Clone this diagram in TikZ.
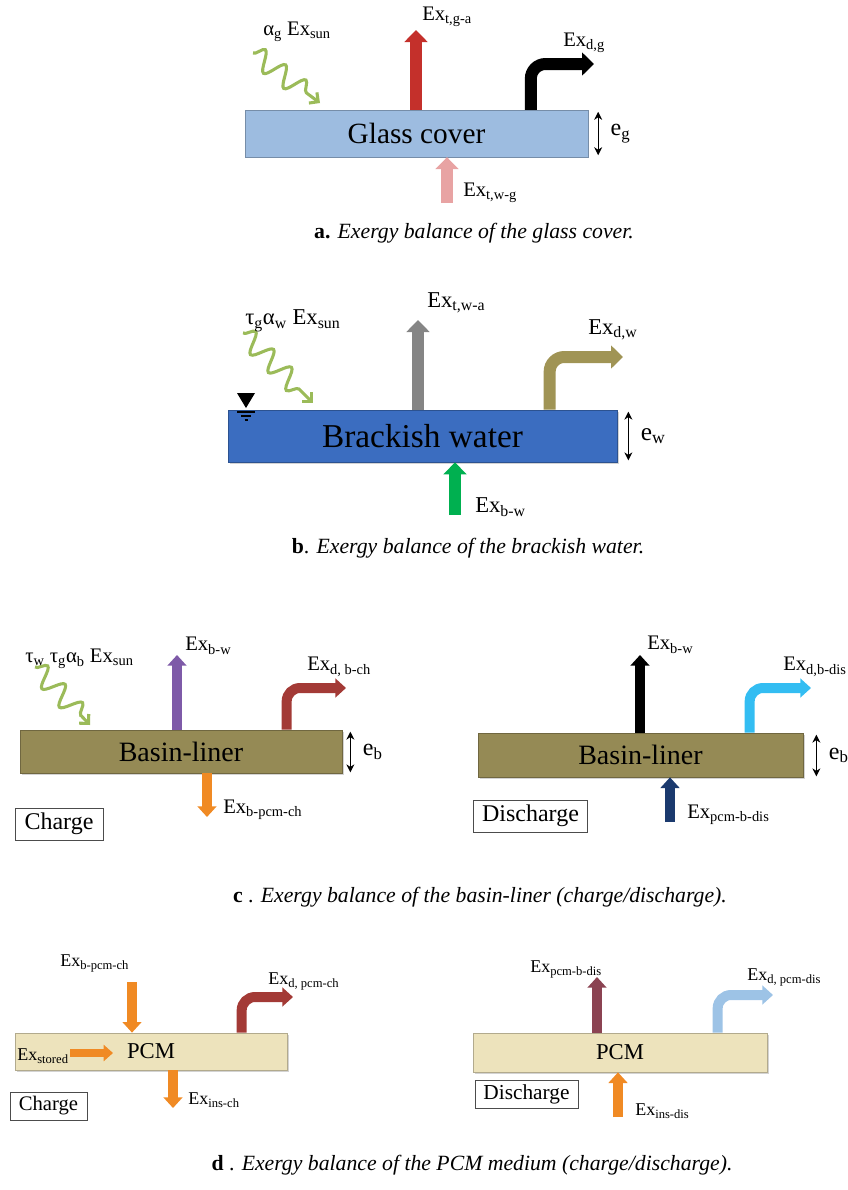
\documentclass[tikz,border=0pt]{standalone}
\usepackage{fontspec}
\setmainfont{Liberation Serif}
\usetikzlibrary{arrows.meta,calc,decorations.pathmorphing,shadows}

\definecolor{glassblue}{HTML}{9DBCE0}
\definecolor{waterblue}{HTML}{3B6DC0}
\definecolor{basin}{HTML}{958A55}
\definecolor{pcmfill}{HTML}{EDE3BC}
\definecolor{sungreen}{HTML}{9BBB59}
\definecolor{redarr}{HTML}{C4302B}
\definecolor{pinkarr}{HTML}{E8A3A3}
\definecolor{grayarr}{HTML}{858585}
\definecolor{olivearr}{HTML}{A09455}
\definecolor{greenarr}{HTML}{00B050}
\definecolor{purplearr}{HTML}{7E5AA8}
\definecolor{brickarr}{HTML}{A33A36}
\definecolor{orangearr}{HTML}{F08A24}
\definecolor{cyanarr}{HTML}{33BDF2}
\definecolor{navyarr}{HTML}{1B3A6E}
\definecolor{maroonarr}{HTML}{8B4352}
\definecolor{lightarr}{HTML}{9DC3E6}

\newcommand{\Ex}[1]{Ex\textsubscript{#1}}
\newcommand{\fs}[1]{\fontsize{#1}{#1}\selectfont}

\begin{document}
\begin{tikzpicture}[x=0.75pt,y=-0.75pt,
  slab/.style={draw=#1!75!black, fill=#1, line width=0.5pt, inner sep=0pt,
    drop shadow={shadow xshift=1.2pt, shadow yshift=-1.2pt, opacity=0.35}},
  bigflow/.style={line width=9pt, -{Triangle[width=17pt,length=9pt]}},
  smallflow/.style={line width=7.5pt, -{Triangle[width=14pt,length=8pt]}},
  sunray/.style={draw=sungreen, line width=2.3pt, decorate,
    decoration={snake, amplitude=7.5pt, segment length=19pt, post length=9pt},
    -{Straight Barb[length=5pt,width=10pt]}},
  thk/.style={{Stealth[length=6pt,width=6pt]}-{Stealth[length=6pt,width=6pt]}, line width=0.8pt},
  lbl/.style={anchor=west, inner sep=0pt, font=\fs{15.5}},
  tagbox/.style={draw=black!70, line width=0.6pt, inner sep=0pt},
  capt/.style={inner sep=0pt, font=\fs{16.3}}]
\useasboundingbox (0,0) rectangle (847,1190);

% a. glass cover
\node[slab=glassblue, minimum width=257pt, minimum height=35pt, font=\fs{22}] (glass) at (416.5,133.5) {Glass cover};
\coordinate (tga) at (416,30);
\draw[bigflow, redarr] (glass.north -| tga) -- (tga);
\node[lbl] (ltga) at (422,17) {\Ex{t,g-a}};
\coordinate (dg) at (594,64);
\draw[bigflow, black, rounded corners=11pt] ($(glass.north west)+(286,0)$) |- (dg);
\node[lbl] (ldg) at (563,43) {\Ex{d,g}};
\coordinate (twg) at (447,203);
\draw[bigflow, pinkarr] (twg) -- (glass.south -| twg);
\node[lbl] (ltwg) at (463,193) {\Ex{t,w-g}};
\coordinate (sa1) at (253,53);
\coordinate (sa2) at (320,103);
\draw[sunray] (sa1) -- (sa2);
\node[lbl] (lsa) at (263,32) {α\textsubscript{g} \Ex{sun}};
\draw[thk] ($(glass.north east)+(10,2)$) -- ($(glass.south east)+(10,-2)$)
  node[lbl, midway, xshift=9pt, font=\fs{18}] (leg) {e\textsubscript{g}};
\node[capt] (capa) at (474,233) {\textbf{a.} \textit{Exergy balance of the glass cover.}};

% b. brackish water
\node[slab=waterblue, minimum width=291.75pt, minimum height=39pt, font=\fs{25}] (water) at (422.5,436) {Brackish water};
\coordinate (twa) at (418,320);
\draw[bigflow, grayarr] (water.north -| twa) -- (twa);
\node[lbl, font=\fs{17}] (ltwa) at (427,303) {\Ex{t,w-a}};
\coordinate (dw) at (623,357);
\draw[bigflow, olivearr, rounded corners=11pt] ($(water.north west)+(322,0)$) |- (dw);
\node[lbl, font=\fs{17}] (ldw) at (588,330) {\Ex{d,w}};
\coordinate (bw) at (455,515);
\draw[bigflow, greenarr] (bw) -- (water.south -| bw);
\node[lbl, font=\fs{17}] (lbw) at (475,507) {\Ex{b-w}};
\coordinate (sb1) at (243,333);
\coordinate (sb2) at (313,403);
\draw[sunray] (sb1) -- (sb2);
\node[lbl, font=\fs{17}] (lsb) at (245,321) {τ\textsubscript{g}α\textsubscript{w} \Ex{sun}};
\fill (237,393) -- (255,393) -- (246,408) -- cycle;
\draw[line width=0.8pt] (237,412) -- (255,412) (241,416) -- (251,416) (244.5,420) -- (247.5,420);
\draw[thk] ($(water.north east)+(11,2)$) -- ($(water.south east)+(11,-2)$)
  node[lbl, midway, xshift=9pt, font=\fs{19}] (lew) {e\textsubscript{w}};
\node[capt] (capb) at (468,548) {\textbf{b}. \textit{Exergy balance of the brackish water.}};

% c. basin-liner, charge
\node[slab=basin, minimum width=241.5pt, minimum height=32.25pt, font=\fs{21}] (bl1) at (181,751.5) {Basin-liner};
\coordinate (bwc) at (177,655);
\draw[smallflow, purplearr] (bl1.north -| bwc) -- (bwc);
\node[lbl] (lbwc) at (185,646) {\Ex{b-w}};
\coordinate (dbc) at (346,688);
\draw[smallflow, brickarr, rounded corners=10pt] ($(bl1.north west)+(267,0)$) |- (dbc);
\node[lbl] (ldbc) at (307,667) {\Ex{d, b-ch}};
\coordinate (bpc) at (207,817);
\draw[smallflow, orangearr] (bl1.south -| bpc) -- (bpc);
\node[lbl] (lbpc) at (223,810) {\Ex{b-pcm-ch}};
\coordinate (sc1) at (35,667);
\coordinate (sc2) at (90,725);
\draw[sunray] (sc1) -- (sc2);
\node[lbl] (lsc) at (25,659) {τ\textsubscript{w} τ\textsubscript{g}α\textsubscript{b} \Ex{sun}};
\draw[thk] ($(bl1.north east)+(8,2)$) -- ($(bl1.south east)+(8,-1)$)
  node[lbl, midway, xshift=9pt, font=\fs{18}] (leb1) {e\textsubscript{b}};
\node[tagbox, minimum width=66pt, minimum height=24pt, font=\fs{18}] (chg1) at (59,824) {Charge};

% c. basin-liner, discharge
\node[slab=basin, minimum width=243.75pt, minimum height=33pt, font=\fs{21}] (bl2) at (640.5,755) {Basin-liner};
\coordinate (bwd) at (640,655);
\draw[smallflow, black] (bl2.north -| bwd) -- (bwd);
\node[lbl] (lbwd) at (647,645) {\Ex{b-w}};
\coordinate (dbd) at (811,688);
\draw[smallflow, cyanarr, rounded corners=10pt] ($(bl2.north west)+(272,0)$) |- (dbd);
\node[lbl] (ldbd) at (783,667) {\Ex{d,b-dis}};
\coordinate (pbd) at (670,822);
\draw[smallflow, navyarr] (pbd) -- (bl2.south -| pbd);
\node[lbl] (lpbd) at (687,815) {\Ex{pcm-b-dis}};
\draw[thk] ($(bl2.north east)+(13,2)$) -- ($(bl2.south east)+(13,-1)$)
  node[lbl, midway, xshift=9pt, font=\fs{18}] (leb2) {e\textsubscript{b}};
\node[tagbox, minimum width=86pt, minimum height=24pt, font=\fs{18}] (dis1) at (530.5,816) {Discharge};
\node[capt] (capc) at (480,897) {\textbf{c} . \textit{Exergy balance of the basin-liner (charge/discharge).}};

% d. PCM, charge
\node[slab=pcmfill, minimum width=204pt, minimum height=27.75pt, font=\fs{17}] (pcm1) at (151,1051.5) {PCM};
\coordinate (bpd) at (132,982);
\draw[smallflow, orangearr] (bpd) -- (pcm1.north -| bpd);
\node[lbl, font=\fs{13.5}] (lbpd) at (60,963) {\Ex{b-pcm-ch}};
\coordinate (dpc) at (293,997);
\draw[smallflow, brickarr, rounded corners=10pt] ($(pcm1.north west)+(227,0)$) |- (dpc);
\node[lbl, font=\fs{13.5}] (ldpc) at (268,981) {\Ex{d, pcm-ch}};
\coordinate (st1) at (70,1053);
\coordinate (st2) at (113,1053);
\draw[line width=6pt, orangearr, -{Triangle[width=12pt,length=7pt]}] (st1) -- (st2);
\node[lbl, font=\fs{13.5}] (lst) at (17,1056) {\Ex{stored}};
\coordinate (ich) at (173,1108);
\draw[smallflow, orangearr] (pcm1.south -| ich) -- (ich);
\node[lbl, font=\fs{13.5}] (lich) at (188,1100) {\Ex{ins-ch}};
\node[tagbox, minimum width=57.75pt, minimum height=21pt, font=\fs{15.5}] (chg2) at (48.5,1106) {Charge};

% d. PCM, discharge
\node[slab=pcmfill, minimum width=220.5pt, minimum height=29.25pt, font=\fs{17}] (pcm2) at (620,1052.5) {PCM};
\coordinate (pbu) at (597,977);
\draw[smallflow, maroonarr] (pcm2.north -| pbu) -- (pbu);
\node[lbl, font=\fs{13.5}] (lpbu) at (530,969) {\Ex{pcm-b-dis}};
\coordinate (dpd) at (773,995);
\draw[smallflow, lightarr, rounded corners=10pt] ($(pcm2.north west)+(245,0)$) |- (dpd);
\node[lbl, font=\fs{13.5}] (ldpd) at (747,977) {\Ex{d, pcm-dis}};
\coordinate (idi) at (618,1117);
\draw[smallflow, orangearr] (idi) -- (pcm2.south -| idi);
\node[lbl, font=\fs{13.5}] (lidi) at (635,1111) {\Ex{ins-dis}};
\node[tagbox, minimum width=77.25pt, minimum height=21pt, font=\fs{16}] (dis2) at (526.5,1094) {Discharge};
\node[capt] (capd) at (472,1165) {\textbf{d} . \textit{Exergy balance of the PCM medium (charge/discharge).}};
\end{tikzpicture}
\end{document}
